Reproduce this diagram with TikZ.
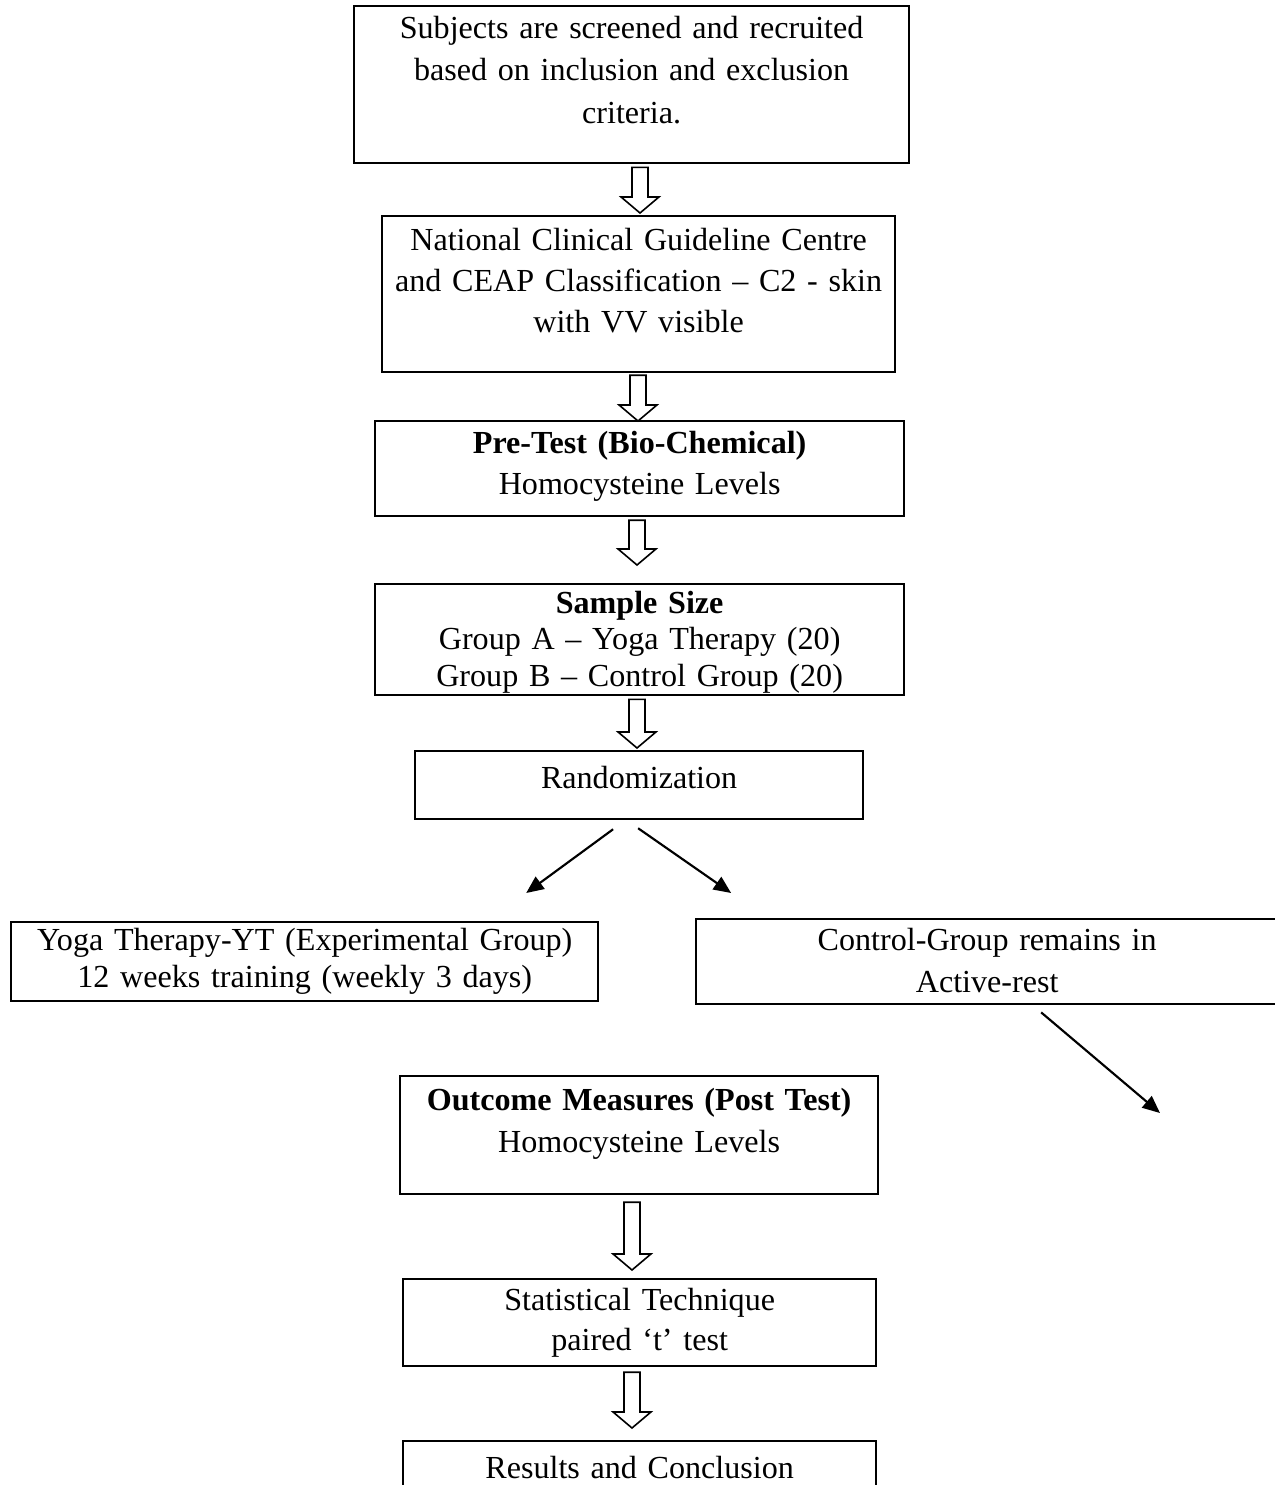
\documentclass[tikz,border=0pt]{standalone}
\usepackage{fontspec}
\setmainfont{Liberation Serif}
\usetikzlibrary{arrows.meta,calc}

% hollow block arrow from one box down to the next, at x = #3
\newcommand{\hollowlink}[5]{%
  \draw[hollow] let \p1=($(#1.south)+(0,#4)$), \p2=($(#2.north)+(0,-#5)$), \p0=(#3,0) in
    (\x0-3pt,\y1) -- (\x0-3pt,\y2+6pt) -- (\x0-7.1pt,\y2+6pt) -- (\x0,\y2)
    -- (\x0+7.1pt,\y2+6pt) -- (\x0+3pt,\y2+6pt) -- (\x0+3pt,\y1) -- cycle;}

\begin{document}
\begin{tikzpicture}[x=0.3737pt, y=-0.3737pt, line join=miter,
    stage/.style={draw, line width=0.85pt, anchor=north west, align=center,
      inner xsep=0pt, inner ysep=0pt, font=\fontsize{12}{15.6}\selectfont},
    hollow/.style={draw, line width=0.6pt, fill=white},
    link/.style={-{Triangle[length=6.5pt, width=5.6pt]}, line width=0.8pt}]
  \useasboundingbox (0,0) rectangle (1275,1485);
  \clip (0,0) rectangle (1275,1485);

  \node[stage, text width=207.4pt, text height=12pt, text depth=46.7pt,
    font=\fontsize{12}{15.9}\selectfont] (subjects) at (353,5)
    {Subjects are screened and recruited\\ based on inclusion and exclusion\\ criteria.};
  \node[stage, text width=191.7pt, text height=12.7pt, text depth=45.6pt,
    font=\fontsize{12}{15.3}\selectfont] (guideline) at (381,215)
    {National Clinical Guideline Centre\\ and CEAP Classification – C2 - skin\\ with VV visible};
  \node[stage, text width=197.7pt, text height=12pt, text depth=23.5pt,
    font=\fontsize{12}{15.3}\selectfont] (pretest) at (374,420)
    {\textbf{Pre-Test (Bio-Chemical)}\\ Homocysteine Levels};
  \node[stage, text width=197.7pt, text height=10.8pt, text depth=30.7pt,
    font=\fontsize{12}{13.8}\selectfont] (sample) at (374,583)
    {\textbf{Sample Size}\\ Group A – Yoga Therapy (20)\\ Group B – Control Group (20)};
  \node[stage, text width=167.4pt, text height=13.8pt, text depth=11.6pt] (random) at (414,750)
    {Randomization};
  \node[stage, text width=219.4pt, text height=10.5pt, text depth=19pt,
    font=\fontsize{12}{13.8}\selectfont] (yoga) at (10,921)
    {Yoga Therapy-YT (Experimental Group)\\ 12 weeks training (weekly 3 days)};
  \node[stage, text width=217.5pt, text height=11.6pt, text depth=20.2pt,
    font=\fontsize{12}{15.7}\selectfont] (control) at (695,918)
    {Control-Group remains in\\ Active-rest};
  \node[stage, text width=178.6pt, text height=12.7pt, text depth=31.4pt,
    font=\fontsize{12}{15.7}\selectfont] (outcome) at (399,1075)
    {\textbf{Outcome Measures (Post Test)}\\ Homocysteine Levels};
  \node[stage, text width=176.8pt, text height=11.6pt, text depth=20.9pt,
    font=\fontsize{12}{15}\selectfont] (stats) at (402,1278)
    {Statistical Technique\\ paired ‘t’ test};
  \node[stage, text width=176.8pt, text height=13.8pt, text depth=10pt] (results) at (402,1440)
    {Results and Conclusion};

  % block arrows
  \hollowlink{subjects}{guideline}{640}{3}{2}
  \hollowlink{guideline}{pretest}{638}{2}{-1}
  \hollowlink{pretest}{sample}{637}{3}{18}
  \hollowlink{sample}{random}{637}{3}{2}
  \hollowlink{outcome}{stats}{632}{7}{8}
  \hollowlink{stats}{results}{632}{5}{12}

  % split after randomization
  \coordinate (ctrlend) at (1160,1113);
  \draw[link] ($(random.south)+(-26,9)$) -- ($(yoga.north)+(221.5,-28)$);
  \draw[link] ($(random.south)+(-1,8)$) -- ($(control.north)+(-256,-25)$);
  \draw[link] ($(control.south)+(54,7)$) -- (ctrlend);
\end{tikzpicture}
\end{document}
